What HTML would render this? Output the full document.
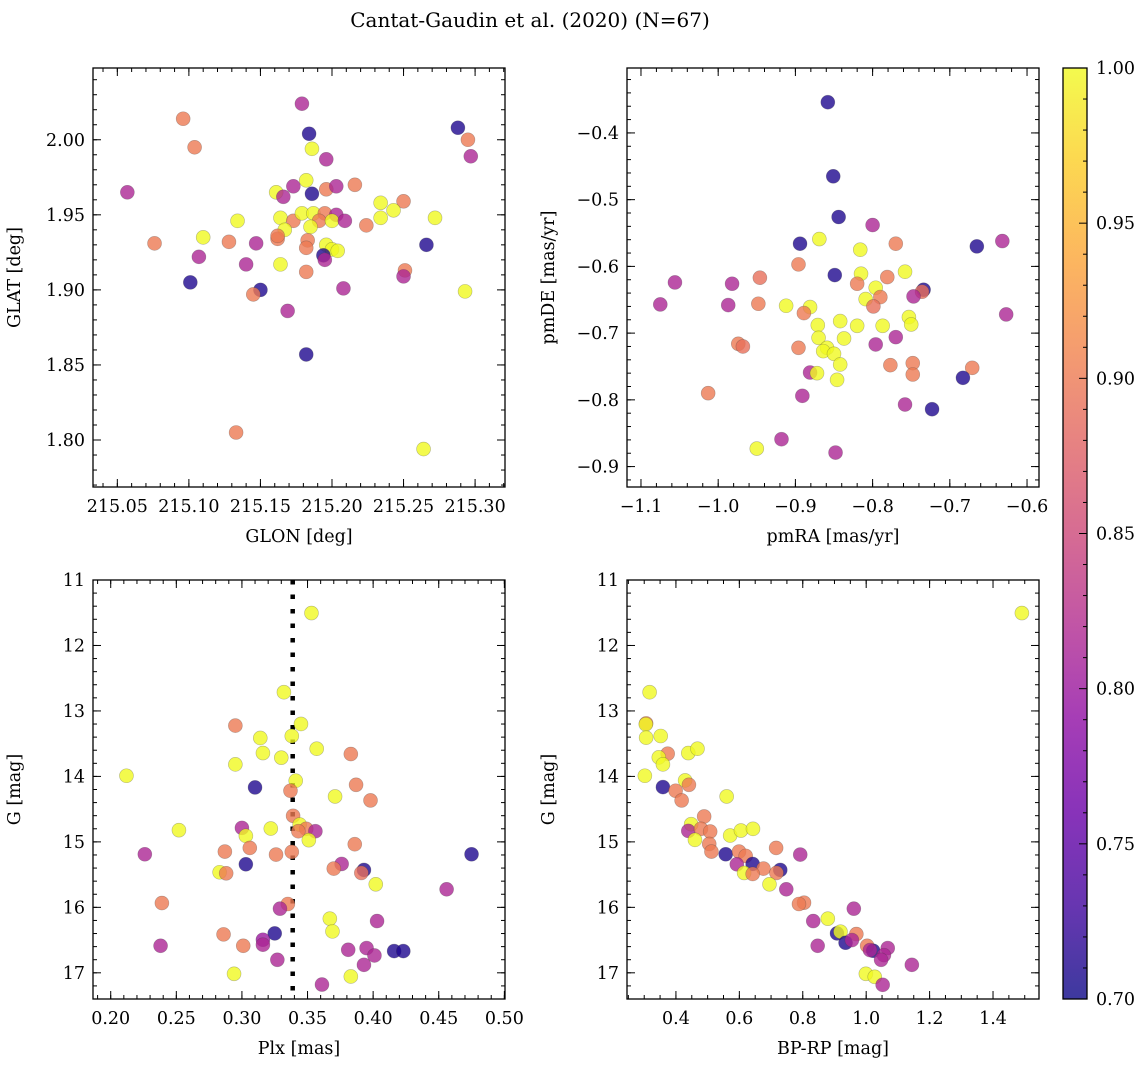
<!DOCTYPE html>
<html><head><meta charset="utf-8"><style>
html,body{margin:0;padding:0;background:#fff;}
svg text{font-family:"DejaVu Serif","Liberation Serif",serif;fill:#000;}
</style></head><body>
<svg id="fig" width="1148" height="1067" viewBox="0 0 1148 1067" xmlns="http://www.w3.org/2000/svg">
<defs><linearGradient id="cmap" x1="0" y1="1" x2="0" y2="0">
<stop offset="0" stop-color="#0d0887"/><stop offset="0.1" stop-color="#41049d"/><stop offset="0.2" stop-color="#6a00a8"/><stop offset="0.3" stop-color="#8f0da4"/><stop offset="0.4" stop-color="#b12a90"/><stop offset="0.5" stop-color="#cc4778"/><stop offset="0.6" stop-color="#e16462"/><stop offset="0.7" stop-color="#f2844b"/><stop offset="0.8" stop-color="#fca636"/><stop offset="0.9" stop-color="#fcce25"/><stop offset="1" stop-color="#f0f921"/>
</linearGradient></defs>
<text x="530" y="27" font-size="20" text-anchor="middle">Cantat-Gaudin et al. (2020) (N=67)</text>
</svg>
<script>
// ---- Panel 1: GLON / GLAT ----
const glon=[215.179,215.096,215.184,215.288,215.295,215.104,215.186,215.196,215.297,215.182,215.173,215.161,215.166,215.186,215.196,215.203,215.216,215.057,215.234,215.250,215.243,215.234,215.272,215.134,215.164,215.173,215.179,215.187,215.195,215.203,215.191,215.200,215.209,215.185,215.224,215.167,215.110,215.076,215.128,215.147,215.162,215.183,215.182,215.196,215.200,215.204,215.266,215.107,215.194,215.195,215.140,215.164,215.182,215.251,215.250,215.101,215.150,215.145,215.208,215.293,215.169,215.182,215.133,215.264,215.162];
const glat=[2.024,2.014,2.004,2.008,2.000,1.995,1.994,1.987,1.989,1.973,1.969,1.965,1.962,1.964,1.967,1.969,1.970,1.965,1.958,1.959,1.953,1.948,1.948,1.946,1.948,1.946,1.951,1.951,1.951,1.950,1.946,1.946,1.946,1.942,1.943,1.940,1.935,1.931,1.932,1.931,1.934,1.933,1.928,1.930,1.927,1.926,1.930,1.922,1.923,1.920,1.917,1.917,1.912,1.913,1.909,1.905,1.900,1.897,1.901,1.899,1.886,1.857,1.805,1.794,1.936];
const prob1=[0.815,0.90,0.71,0.71,0.90,0.90,1.00,0.815,0.815,1.00,0.815,1.00,0.815,0.71,0.90,0.815,0.90,0.815,1.00,0.90,1.00,1.00,1.00,1.00,1.00,0.90,1.00,1.00,0.90,0.815,0.90,1.00,0.815,1.00,0.90,1.00,1.00,0.90,0.90,0.815,0.90,0.90,0.90,1.00,1.00,1.00,0.71,0.815,0.71,0.815,0.815,1.00,0.90,0.90,0.815,0.71,0.71,0.90,0.815,1.00,0.815,0.71,0.90,1.00,0.90];
// ---- Panel 2: pmRA / pmDE ----
const pmra=[-0.858,-0.851,-0.844,-0.800,-0.869,-0.894,-0.816,-0.770,-0.665,-0.632,-0.896,-0.849,-0.815,-0.758,-0.781,-0.946,-1.056,-0.982,-0.820,-0.796,-0.734,-0.736,-0.747,-0.790,-0.809,-0.799,-1.075,-0.987,-0.948,-0.912,-0.881,-0.889,-0.627,-0.753,-0.750,-0.842,-0.871,-0.820,-0.787,-0.770,-0.870,-0.837,-0.974,-0.968,-0.896,-0.796,-0.859,-0.864,-0.850,-0.842,-0.777,-0.748,-0.748,-0.671,-0.683,-0.881,-0.872,-0.846,-1.013,-0.891,-0.758,-0.723,-0.918,-0.950,-0.848];
const pmde=[-0.354,-0.465,-0.526,-0.538,-0.559,-0.566,-0.575,-0.566,-0.570,-0.562,-0.597,-0.613,-0.611,-0.608,-0.616,-0.617,-0.624,-0.626,-0.626,-0.632,-0.635,-0.638,-0.645,-0.646,-0.649,-0.660,-0.657,-0.658,-0.656,-0.659,-0.661,-0.670,-0.672,-0.676,-0.687,-0.682,-0.688,-0.689,-0.689,-0.706,-0.707,-0.708,-0.716,-0.720,-0.722,-0.717,-0.722,-0.727,-0.731,-0.747,-0.748,-0.745,-0.762,-0.752,-0.767,-0.759,-0.760,-0.770,-0.790,-0.794,-0.807,-0.814,-0.859,-0.873,-0.879];
const prob2=[0.71,0.71,0.71,0.815,1.00,0.71,1.00,0.90,0.71,0.815,0.90,0.71,1.00,1.00,0.90,0.89,0.815,0.815,0.90,1.00,0.71,0.89,0.815,0.90,1.00,0.89,0.815,0.815,0.90,1.00,1.00,0.90,0.815,1.00,1.00,1.00,1.00,1.00,1.00,0.815,1.00,1.00,0.90,0.89,0.90,0.815,1.00,1.00,1.00,1.00,0.90,0.90,0.90,0.90,0.71,0.815,1.00,1.00,0.90,0.815,0.815,0.71,0.815,1.00,0.815];
// ---- Panel 3: Plx / G ----
const plx=[0.353,0.332,0.295,0.345,0.314,0.338,0.357,0.316,0.330,0.295,0.383,0.212,0.310,0.341,0.337,0.387,0.371,0.398,0.339,0.344,0.349,0.356,0.343,0.351,0.252,0.300,0.303,0.322,0.386,0.306,0.287,0.326,0.338,0.226,0.475,0.303,0.376,0.370,0.393,0.391,0.283,0.288,0.402,0.456,0.239,0.335,0.329,0.367,0.403,0.369,0.286,0.325,0.316,0.316,0.238,0.301,0.381,0.395,0.401,0.416,0.423,0.327,0.393,0.294,0.383,0.361];
const gmag3=[11.505,12.714,13.224,13.199,13.413,13.383,13.577,13.643,13.714,13.816,13.658,13.990,14.168,14.066,14.219,14.128,14.306,14.367,14.602,14.735,14.801,14.837,14.837,14.974,14.821,14.786,14.908,14.796,15.036,15.092,15.148,15.194,15.153,15.189,15.189,15.342,15.337,15.408,15.429,15.474,15.464,15.480,15.648,15.724,15.934,15.949,16.020,16.173,16.209,16.367,16.413,16.398,16.495,16.571,16.587,16.587,16.648,16.622,16.735,16.668,16.668,16.801,16.878,17.015,17.056,17.179];
const prob3=[1.00,1.00,0.90,1.00,1.00,1.00,1.00,1.00,1.00,1.00,0.90,1.00,0.71,1.00,0.90,0.90,1.00,0.90,0.90,1.00,0.90,0.815,0.90,1.00,1.00,0.815,1.00,1.00,0.90,0.90,0.90,0.90,0.90,0.815,0.71,0.71,0.815,0.90,0.71,0.89,1.00,0.90,1.00,0.815,0.90,0.90,0.815,1.00,0.815,1.00,0.90,0.71,0.80,0.815,0.815,0.90,0.815,0.815,0.815,0.71,0.71,0.815,0.815,1.00,1.00,0.815];
const plxMean=0.3387;
// ---- Panel 4: BP-RP / G ----
const bprp=[1.491,0.317,0.306,0.305,0.306,0.352,0.374,0.346,0.359,0.439,0.468,0.302,0.359,0.429,0.441,0.399,0.418,0.560,0.489,0.448,0.439,0.479,0.508,0.460,0.571,0.605,0.643,0.505,0.512,0.557,0.716,0.792,0.599,0.620,0.592,0.642,0.676,0.729,0.717,0.615,0.642,0.695,0.748,0.804,0.788,0.961,0.833,0.879,0.969,0.908,0.919,0.935,0.955,0.847,1.003,1.022,1.012,1.068,1.056,1.047,1.144,0.999,1.027,1.052];
const gmag4=[11.505,12.714,13.19,13.204,13.408,13.383,13.653,13.709,13.816,13.643,13.577,13.990,14.163,14.061,14.128,14.219,14.367,14.306,14.612,14.730,14.832,14.801,14.842,14.969,14.903,14.827,14.801,15.031,15.148,15.189,15.092,15.194,15.148,15.214,15.342,15.337,15.408,15.429,15.474,15.474,15.490,15.648,15.724,15.929,15.949,16.020,16.209,16.173,16.408,16.398,16.372,16.541,16.500,16.587,16.587,16.663,16.653,16.622,16.730,16.801,16.878,17.015,17.061,17.184];
const prob4=[1.00,1.00,0.90,1.00,1.00,1.00,0.90,1.00,1.00,1.00,1.00,1.00,0.71,1.00,0.90,0.90,0.90,1.00,0.90,1.00,0.815,0.90,0.90,1.00,1.00,1.00,1.00,0.90,0.90,0.71,0.90,0.815,0.90,0.90,0.815,0.71,0.90,0.71,0.90,1.00,0.90,1.00,0.815,0.90,0.90,0.815,0.815,1.00,0.90,0.71,1.00,0.71,0.815,0.815,0.90,0.71,0.815,0.815,0.815,0.815,0.815,1.00,1.00,0.815];
// ---- Tick labels ----
const ticks1x=[215.05,215.10,215.15,215.20,215.25,215.30];
const ticks1y=[1.80,1.85,1.90,1.95,2.00];
const ticks2x=[-1.1,-1.0,-0.9,-0.8,-0.7,-0.6];
const ticks2y=[-0.9,-0.8,-0.7,-0.6,-0.5,-0.4];
const ticks3x=[0.20,0.25,0.30,0.35,0.40,0.45,0.50];
const ticksG=[11,12,13,14,15,16,17];
const ticks4x=[0.4,0.6,0.8,1.0,1.2,1.4];
const ticksCb=[0.70,0.75,0.80,0.85,0.90,0.95,1.00];

const NS='http://www.w3.org/2000/svg';
const svg=document.getElementById('fig');
function mk(tag,attrs,parent){const e=document.createElementNS(NS,tag);for(const k in attrs)e.setAttribute(k,attrs[k]);(parent||svg).appendChild(e);return e;}
const stops=[[0,13,8,135],[0.1,65,4,157],[0.2,106,0,168],[0.3,143,13,164],[0.4,177,42,144],[0.5,204,71,120],[0.6,225,100,98],[0.7,242,132,75],[0.8,252,166,54],[0.9,252,206,37],[1,240,249,33]];
function plasma(v){v=Math.max(0,Math.min(1,v));for(let i=1;i<stops.length;i++){if(v<=stops[i][0]){const a=stops[i-1],b=stops[i],t=(v-a[0])/(b[0]-a[0]);return 'rgb('+[1,2,3].map(j=>Math.round(a[j]+(b[j]-a[j])*t)).join(',')+')';}}return 'rgb(240,249,33)';}
function cnorm(p){return (p-0.70)/0.30;}
function fmt(v,d){const s=Math.abs(v).toFixed(d);return (v<-1e-9?'\u2212':'')+s;}
const TF=17.5;

function panel(o){
  const g=mk('g',{});
  
  
  const sx=v=>o.x0+(v-o.xmin)/(o.xmax-o.xmin)*(o.x1-o.x0);
  const sy=o.yinv?(v=>o.y0+(v-o.ymin)/(o.ymax-o.ymin)*(o.y1-o.y0)):(v=>o.y1-(v-o.ymin)/(o.ymax-o.ymin)*(o.y1-o.y0));
  const tg=mk('g',{stroke:'#000','stroke-width':1},g);
  
  
  const eps=1e-9;
  for(let v=Math.ceil(o.xmin/o.xminor-eps)*o.xminor;v<=o.xmax+eps;v+=o.xminor){const X=sx(v);mk('line',{x1:X,x2:X,y1:o.y1,y2:o.y1-4},tg);mk('line',{x1:X,x2:X,y1:o.y0,y2:o.y0+4},tg);}
  for(let v=Math.ceil(o.ymin/o.yminor-eps)*o.yminor;v<=o.ymax+eps;v+=o.yminor){const Y=sy(v);mk('line',{y1:Y,y2:Y,x1:o.x0,x2:o.x0+4},tg);mk('line',{y1:Y,y2:Y,x1:o.x1,x2:o.x1-4},tg);}
  o.xt.forEach(v=>{const X=sx(v);mk('line',{x1:X,x2:X,y1:o.y1,y2:o.y1-8},tg);mk('line',{x1:X,x2:X,y1:o.y0,y2:o.y0+8},tg);
    const t=mk('text',{x:X,y:o.y1+25,'font-size':TF,'text-anchor':'middle'},g);t.textContent=fmt(v,o.xd);
    
    });
  o.yt.forEach(v=>{const Y=sy(v);mk('line',{y1:Y,y2:Y,x1:o.x0,x2:o.x0+8},tg);mk('line',{y1:Y,y2:Y,x1:o.x1,x2:o.x1-8},tg);
    const t=mk('text',{x:o.x0-8,y:Y+6,'font-size':TF,'text-anchor':'end'},g);t.textContent=fmt(v,o.yd);
    
    });
  if(o.vline!==undefined){const X=sx(o.vline);const l=mk('line',{x1:X,x2:X,y1:o.y0,y2:o.y1,stroke:'#000','stroke-width':4.5,'stroke-dasharray':'4.5,10'},g);
    
    }
  const pg=mk('g',{},g);
  
  
  o.xs.forEach((xv,i)=>{const c=mk('circle',{cx:sx(xv),cy:sy(o.ys[i]),r:7,fill:plasma(cnorm(o.c[i])),'fill-opacity':0.8,stroke:'rgba(60,60,60,0.35)','stroke-width':0.6},pg);
    
    });
  const fr=mk('rect',{x:o.x0,y:o.y0,width:o.x1-o.x0,height:o.y1-o.y0,fill:'none',stroke:'#000','stroke-width':1.3},g);
  
  
  const xl=mk('text',{x:(o.x0+o.x1)/2,y:o.y1+55,'font-size':TF,'text-anchor':'middle'},g);xl.textContent=o.xlab;
  
  
  const yx=o.x0-73,ymid=(o.y0+o.y1)/2;
  const yl=mk('text',{x:yx,y:ymid,'font-size':TF,'text-anchor':'middle',transform:'rotate(-90 '+yx+' '+ymid+')'},g);yl.textContent=o.ylab;
  
  
}
panel({name:'glon-glat-panel',x0:93,x1:505,y0:68,y1:487,xmin:215.0330,xmax:215.3209,ymin:1.7687,ymax:2.0478,xt:ticks1x,yt:ticks1y,xminor:0.01,yminor:0.01,xd:2,yd:2,xs:glon,ys:glat,c:prob1,xlab:'GLON [deg]',ylab:'GLAT [deg]'});
panel({name:'proper-motion-panel',x0:627,x1:1039,y0:68,y1:487,xmin:-1.1181,xmax:-0.5845,ymin:-0.9306,ymax:-0.3027,xt:ticks2x,yt:ticks2y,xminor:0.02,yminor:0.02,xd:1,yd:1,xs:pmra,ys:pmde,c:prob2,xlab:'pmRA [mas/yr]',ylab:'pmDE [mas/yr]'});
panel({name:'parallax-panel',x0:93,x1:505,y0:580,y1:999,xmin:0.1865,xmax:0.5005,ymin:11,ymax:17.4,yinv:true,xt:ticks3x,yt:ticksG,xminor:0.01,yminor:0.2,xd:2,yd:0,xs:plx,ys:gmag3,c:prob3,vline:plxMean,xlab:'Plx [mas]',ylab:'G [mag]'});
panel({name:'cmd-panel',x0:627,x1:1039,y0:580,y1:999,xmin:0.2457,xmax:1.545,ymin:11,ymax:17.4,yinv:true,xt:ticks4x,yt:ticksG,xminor:0.05,yminor:0.2,xd:1,yd:0,xs:bprp,ys:gmag4,c:prob4,xlab:'BP-RP [mag]',ylab:'G [mag]'});
// colorbar
const cb=mk('g',{});


const cx0=1063,cx1=1087,cy0=68,cy1=999;
mk('rect',{x:cx0,y:cy0,width:cx1-cx0,height:cy1-cy0,fill:'url(#cmap)','fill-opacity':0.8},cb);
const csy=v=>cy1-(v-0.70)/0.30*(cy1-cy0);
for(let k=70;k<=100;k++){const Y=csy(k/100);mk('line',{x1:cx1,x2:cx1-(k%5===0?8:4),y1:Y,y2:Y,stroke:'#000','stroke-width':1},cb);}
ticksCb.forEach(v=>{const t=mk('text',{x:cx1+9,y:csy(v)+6,'font-size':TF},cb);t.textContent=v.toFixed(2);
  
  });
mk('rect',{x:cx0,y:cy0,width:cx1-cx0,height:cy1-cy0,fill:'none',stroke:'#000','stroke-width':1.3},cb);
</script>
</body></html>
